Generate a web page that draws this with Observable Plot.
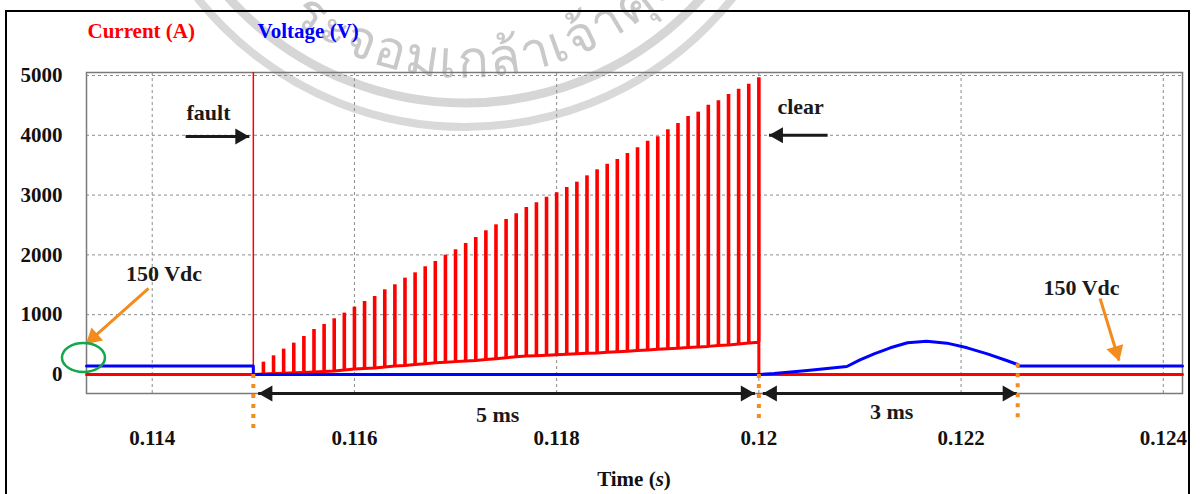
<!DOCTYPE html>
<html><head><meta charset="utf-8">
<script src="https://cdn.jsdelivr.net/npm/d3@7"></script>
<script src="https://cdn.jsdelivr.net/npm/@observablehq/plot@0.6"></script>
<style>
html,body{margin:0;padding:0;background:#fff;overflow:hidden;}
#wrap{position:relative;width:1203px;height:494px;overflow:hidden;background:#fff;}
#wm{position:absolute;left:0;top:0;}
#frame{position:absolute;left:5px;top:10px;width:1185px;height:520px;border:2px solid #000;box-sizing:border-box;}
#chart{position:absolute;left:0;top:0;}
#xlabel{position:absolute;left:86px;width:1096px;top:467px;text-align:center;font:bold 21px "Liberation Serif";color:#111;}
</style></head><body>
<div id="wrap">
  <svg id="wm" width="1203" height="494">
    <circle cx="465" cy="-215" r="318" fill="none" stroke="#d6d6d6" stroke-width="9"/>
    <circle cx="465" cy="-215" r="342" fill="none" stroke="#d9d9d9" stroke-width="8"/>
    <path id="wmArc" d="M172,-215 A293,293 0 0 0 758,-215" fill="none"/>
    <text font-family="Noto Sans, DejaVu Sans, sans-serif" font-size="52" letter-spacing="2" fill="#c9c9c9" text-anchor="middle"><textPath href="#wmArc" startOffset="54%">ระจอมเกล้าเจ้าคุณ</textPath></text>
  </svg>
  <div id="frame"></div>
  <div id="chart"></div>
  <div id="xlabel">Time (<i>s</i>)</div>
</div>
<script>
// ---- axes ----
const xTicks = [0.114, 0.116, 0.118, 0.12, 0.122, 0.124];
const yTicks = [0, 1000, 2000, 3000, 4000, 5000];
const xDomain = [0.11335, 0.12419];
const yDomain = [-318, 5050];

// ---- current (A) ----
const faultTime = 0.115;
const clearTime = 0.12;
const faultPeak = 5050;
const spikeTimes = [0.1151,0.1152,0.1153,0.1154,0.1155,0.1156,0.1157,0.1158,0.1159,0.1160,
  0.1161,0.1162,0.1163,0.1164,0.1165,0.1166,0.1167,0.1168,0.1169,0.1170,
  0.1171,0.1172,0.1173,0.1174,0.1175,0.1176,0.1177,0.1178,0.1179,0.1180,
  0.1181,0.1182,0.1183,0.1184,0.1185,0.1186,0.1187,0.1188,0.1189,0.1190,
  0.1191,0.1192,0.1193,0.1194,0.1195,0.1196,0.1197,0.1198,0.1199,0.1200];
const spikePeaks = [206,312,424,524,635,752,836,931,1026,1126,
  1221,1304,1416,1500,1611,1700,1801,1890,1995,2085,
  2191,2291,2403,2503,2592,2687,2793,2871,2965,3038,
  3127,3216,3322,3423,3517,3595,3696,3791,3902,3975,
  4092,4197,4314,4387,4504,4577,4682,4771,4855,4961];
const spikeBase = [10,15,20,28,35,42,50,60,75,90,
  100,110,125,140,150,165,180,195,205,215,
  225,235,250,265,280,295,310,315,322,330,
  340,348,355,360,370,380,390,400,410,422,
  430,440,450,460,470,485,495,510,525,540];
const currentStart = 0.11335, currentEnd = 0.12419;

// ---- voltage (V) ----
const voltTime = [0.11335,0.115,0.115,0.12,0.12015,0.12048,0.12087,0.12100,0.12114,0.12130,
  0.12147,0.12166,0.12186,0.12206,0.12226,0.12245,0.12256,0.12256,0.12419];
const voltValue = [140,140,0,0,17,67,134,245,345,446,
  530,557,524,446,345,234,167,140,140];

// ---- annotations ----
const labelText = ["fault","clear","150 Vdc","150 Vdc","5 ms","3 ms"];
const labelT    = [0.114557,0.120413,0.114117,0.123192,0.117416,0.121313];
const labelV    = [4381,4482,1689,1455,-669,-619];

const blackArrowT1 = [0.11433,0.12068,0.11505,0.11996,0.12004,0.12255];
const blackArrowT2 = [0.11496,0.12010,0.11996,0.11505,0.12255,0.12004];
const blackArrowV  = [3980,4000,-318,-318,-318,-318];
const blackHeadT   = [0.11496,0.12010,0.11505,0.11996,0.12004,0.12255];
const blackHeadDir = ["right","left","left","right","left","right"];

const orangeT1 = [0.113964,0.123375];
const orangeV1 = [1438,1271];
const orangeT2 = [0.11335,0.123562];
const orangeV2 = [518,234];
const orangeRot = [228.4,163];

const markerT  = [0.115,0.12,0.12256];
const markerV1 = [0,0,180];
const markerV2 = [-970,-770,-770];

const ellipseT = 0.113325, ellipseV = 276;

// ---- build tables ----
const currentLine = [
  {t: currentStart, v: 0}, {t: faultTime, v: 0},
  ...spikeTimes.map((t, k) => ({t, v: spikeBase[k]})),
  {t: clearTime, v: 0}, {t: currentEnd, v: 0}
];
const spikes = spikeTimes.map((t, k) => ({t, lo: spikeBase[k], hi: spikePeaks[k]}));
const voltLine = voltTime.map((t, k) => ({t, v: voltValue[k]}));
const labels = labelText.map((s, k) => ({s, t: labelT[k], v: labelV[k]}));
const blackArrows = blackArrowT1.map((t1, k) => ({t1, t2: blackArrowT2[k], v: blackArrowV[k]}));
const blackHeads = blackHeadT.map((t, k) => ({t, v: blackArrowV[k], dir: blackHeadDir[k]}));
const orangeArrows = orangeT1.map((t1, k) => ({t1, v1: orangeV1[k], t2: orangeT2[k], v2: orangeV2[k], rot: orangeRot[k]}));
const markers = markerT.map((t, k) => ({t, v1: markerV1[k], v2: markerV2[k]}));

const RED = "#ff0000", BLUE = "#0000ff", ORANGE = "#f28c1c", INK = "#1a1a1a";
const fmt = d => String(+d.toFixed(3));
const headR = 6, headOff = 2 * Math.sqrt(Math.PI / (3 * Math.sqrt(3))) * headR;

const plot = Plot.plot({
  width: 1203, height: 494,
  marginLeft: 86, marginRight: 21, marginTop: 72, marginBottom: 101,
  style: {fontFamily: "Liberation Serif", fontWeight: "bold", fontSize: "21px", background: "transparent", overflow: "visible", color: "#111"},
  x: {domain: xDomain},
  y: {domain: yDomain},
  marks: [
    Plot.gridX(xTicks, {stroke: "#8c8c8c", strokeOpacity: 1, strokeDasharray: "3,3"}),
    Plot.gridY(yTicks, {stroke: "#8c8c8c", strokeOpacity: 1, strokeDasharray: "3,3"}),
    Plot.frame({stroke: "#7a7a7a", strokeWidth: 1.5}),
    Plot.axisX({ticks: xTicks, tickSize: 0, tickPadding: 37, tickFormat: fmt, label: null}),
    Plot.axisY({ticks: yTicks, tickSize: 0, tickPadding: 24, tickFormat: d => String(d), label: null}),
    Plot.ruleX([faultTime], {y1: 0, y2: faultPeak, stroke: RED, strokeWidth: 1.5}),
    Plot.line(currentLine, {x: "t", y: "v", stroke: RED, strokeWidth: 3}),
    Plot.ruleX(spikes, {x: "t", y1: "lo", y2: "hi", stroke: RED, strokeWidth: 3.6}),
    Plot.line(voltLine, {x: "t", y: "v", stroke: BLUE, strokeWidth: 3}),
    Plot.text(["Current (A)"], {text: d => d, frameAnchor: "top-left", lineAnchor: "middle", dx: 1, dy: -41, textAnchor: "start", fill: RED, fontSize: 21}),
    Plot.text(["Voltage (V)"], {text: d => d, frameAnchor: "top-left", lineAnchor: "middle", dx: 171, dy: -41, textAnchor: "start", fill: BLUE, fontSize: 21}),
    Plot.text(labels, {x: "t", y: "v", text: "s", fill: INK, fontSize: 22}),
    Plot.link(blackArrows, {x1: "t1", x2: "t2", y1: "v", y2: "v", stroke: INK, strokeWidth: 3}),
    Plot.dot(blackHeads.filter(d => d.dir === "right"), {x: "t", y: "v", symbol: "triangle", r: headR, rotate: 90, dx: -headOff, fill: INK, stroke: "none"}),
    Plot.dot(blackHeads.filter(d => d.dir === "left"), {x: "t", y: "v", symbol: "triangle", r: headR, rotate: -90, dx: headOff, fill: INK, stroke: "none"}),
    Plot.link(orangeArrows, {x1: "t1", y1: "v1", x2: "t2", y2: "v2", stroke: ORANGE, strokeWidth: 3}),
    Plot.dot([orangeArrows[0]], {x: "t2", y: "v2", symbol: "triangle", r: 6.5, rotate: "rot", dx: 7, dy: -6.2, fill: ORANGE, stroke: "none"}),
    Plot.dot([orangeArrows[1]], {x: "t2", y: "v2", symbol: "triangle", r: 6.5, rotate: "rot", dx: -2.7, dy: -8.9, fill: ORANGE, stroke: "none"}),
    Plot.ruleX(markers, {x: "t", y1: "v1", y2: "v2", stroke: ORANGE, strokeWidth: 4, strokeDasharray: "4,6"})
  ]
});
document.getElementById("chart").appendChild(plot);

const sx = plot.scale("x"), sy = plot.scale("y");
d3.select(plot).append("ellipse")
  .attr("cx", sx.apply(ellipseT)).attr("cy", sy.apply(ellipseV))
  .attr("rx", 21.5).attr("ry", 14.5)
  .attr("fill", "none").attr("stroke", "#12a84a").attr("stroke-width", 2.5);
</script>
</body></html>
